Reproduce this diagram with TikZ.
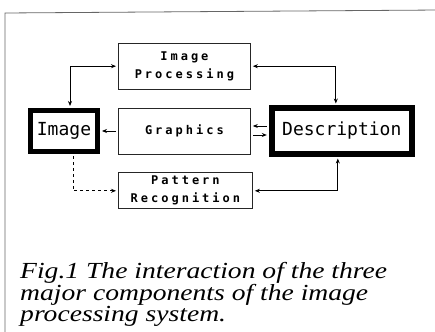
\documentclass[tikz,border=0pt]{standalone}
\usepackage{fontspec}
\setmainfont{Liberation Serif}
\newfontfamily\captionfont[FakeStretch=1.2]{Liberation Serif}
\newfontfamily\termfont{DejaVu Sans Mono}
\newfontfamily\boxfont[LetterSpace=25]{DejaVu Sans Mono}
\usepackage{tikz}
\usetikzlibrary{arrows.meta,positioning}

\begin{document}
\begin{tikzpicture}[
    x=1pt, y=-1pt,
    node distance=18pt,
    box/.style={rectangle, draw=black!85, thick, minimum width=132pt, minimum height=46pt, align=center, font=\boxfont\bfseries\fontsize{12}{18}\selectfont},
    mainbox/.style={rectangle, draw=black, line width=5pt, font=\termfont\fontsize{18}{20}\selectfont},
    arrow/.style={-{Stealth[length=5pt,width=4pt]}, thick, shorten >=2pt, shorten <=2pt},
    both/.style={{Stealth[length=5pt,width=4pt]}-{Stealth[length=5pt,width=4pt]}}
]
    \useasboundingbox (0,0) rectangle (435,331);
    \draw[black!60, thick] (5,340) -- (5,13) -- (440,10);

    \node[mainbox, minimum width=67pt, minimum height=41pt] (image) at (64,131) {Image};
    \node[box, right=of image] (graphics) {Graphics};
    \node[box, above=of graphics] (improc) {Image\\Processing};
    \node[box, below=of graphics, xshift=1pt, minimum width=134pt, minimum height=36pt] (patrec) {Pattern\\Recognition};
    \node[mainbox, line width=6pt, right=of graphics, minimum width=140pt, minimum height=45pt] (desc) {Description};

    \node[anchor=north west, inner sep=0pt, align=left, font=\captionfont\itshape\fontsize{23}{21}\selectfont] (caption) at (20,262)
        {Fig.1 The interaction of the three\\major components of the image\\processing system.};

    \draw[arrow, both] ([xshift=6pt]image.north) |- (improc.west);
    \draw[arrow, both] (improc.east) -| ([xshift=-6pt]desc.north);
    \draw[arrow] (graphics.west) -- (image.east);
    \draw[arrow] ([yshift=5pt]desc.west) -- ([yshift=5pt]graphics.east);
    \draw[arrow] ([yshift=-4pt]graphics.east) -- ([yshift=-4pt]desc.west);
    \draw[arrow, dashed] ([xshift=9pt]image.south) |- (patrec.west);
    \draw[arrow, both] (patrec.east) -| ([xshift=-4pt]desc.south);
\end{tikzpicture}
\end{document}
